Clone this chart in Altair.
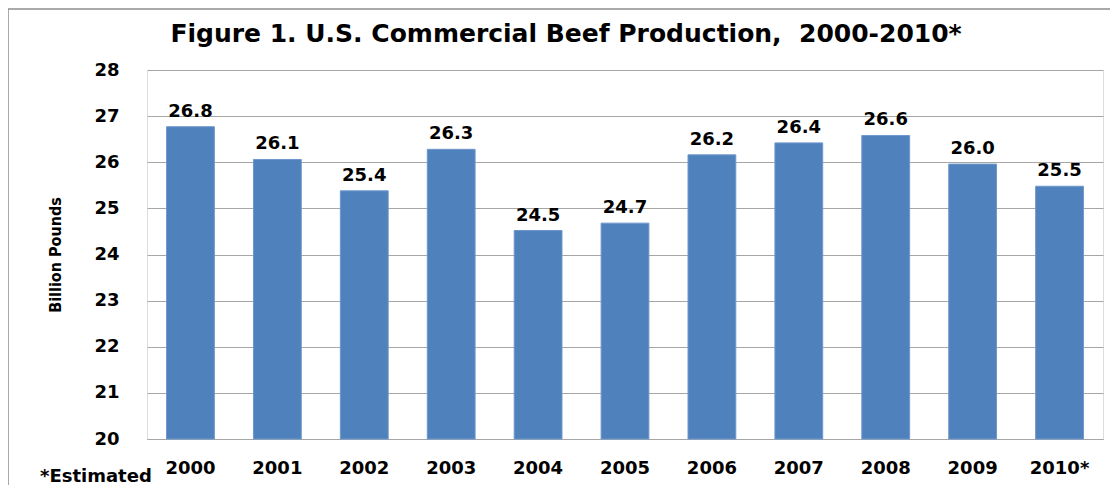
import altair as alt
import pandas as pd

years = ["2000", "2001", "2002", "2003", "2004", "2005", "2006", "2007", "2008", "2009", "2010*"]
production = [26.77, 26.06, 25.38, 26.28, 24.52, 24.68, 26.16, 26.42, 26.58, 25.96, 25.48]
y_ticks = [20, 21, 22, 23, 24, 25, 26, 27, 28]
title_text = "Figure 1. U.S. Commercial Beef Production,\u00a0\u00a02000-2010*"
note_text = "*Estimated"

df = pd.DataFrame({"year": years, "value": production})
one = pd.DataFrame({"k": [0]})

FONT = "DejaVu Sans"
BAR = "#4F81BD"

x_axis = alt.Axis(labelAngle=0, ticks=False, labelPadding=20, domainColor="#A6A6A6",
                  labelFont=FONT, labelFontWeight="bold", labelFontSize=18, labelColor="#000000")
y_axis = alt.Axis(values=y_ticks, ticks=False, domain=False, labelPadding=28,
                  gridColor="#A6A6A6", gridWidth=1,
                  labelFont=FONT, labelFontWeight="bold", labelFontSize=18, labelColor="#000000",
                  titleFont="DejaVu Sans Condensed", titleFontWeight="bold", titleFontSize=16,
                  titleColor="#000000", titlePadding=30)
y_scale = alt.Scale(domain=[20, 28], nice=False, zero=False)
x_scale = alt.Scale(paddingInner=0.45, paddingOuter=0.225)

bars = alt.Chart(df).mark_bar(color=BAR, stroke="#6F97CB", strokeWidth=1).encode(
    x=alt.X("year:N", sort=years, title=None, scale=x_scale, axis=x_axis),
    y=alt.Y("value:Q", title="Billion Pounds", scale=y_scale, axis=y_axis),
    y2=alt.datum(20),
)

labels = alt.Chart(df).mark_text(font=FONT, fontWeight="bold", fontSize=18, color="#000000",
                                 baseline="alphabetic", dy=-10).encode(
    x=alt.X("year:N", sort=years),
    y=alt.Y("value:Q"),
    text=alt.Text("value:Q", format=".1f"),
)

frame_top = alt.Chart(one).mark_rule(color="#8C8C8C", strokeWidth=1.5).encode(
    x=alt.value(-139), x2=alt.value(990), y=alt.value(-61))
frame_left = alt.Chart(one).mark_rule(color="#8C8C8C", strokeWidth=1.5).encode(
    x=alt.value(-139), y=alt.value(-61), y2=alt.value(430))

title = alt.Chart(one).mark_text(font=FONT, fontWeight="bold", fontSize=25, color="#000000",
                                 align="center", baseline="alphabetic", text=title_text).encode(
    x=alt.value(419), y=alt.value(-28))

note = alt.Chart(one).mark_text(font=FONT, fontWeight="bold", fontSize=18, color="#000000",
                                align="left", baseline="alphabetic", text=note_text).encode(
    x=alt.value(-107), y=alt.value(412))

chart = alt.layer(bars, labels, frame_top, frame_left, title, note).properties(
    width=956, height=369,
    autosize=alt.AutoSizeParams(type="none"),
    padding={"left": 139, "top": 62, "right": 7, "bottom": 46},
).configure_view(stroke=None).configure(background="#FFFFFF")

chart.save("out.html", embed_options={"renderer": "svg", "actions": False})
